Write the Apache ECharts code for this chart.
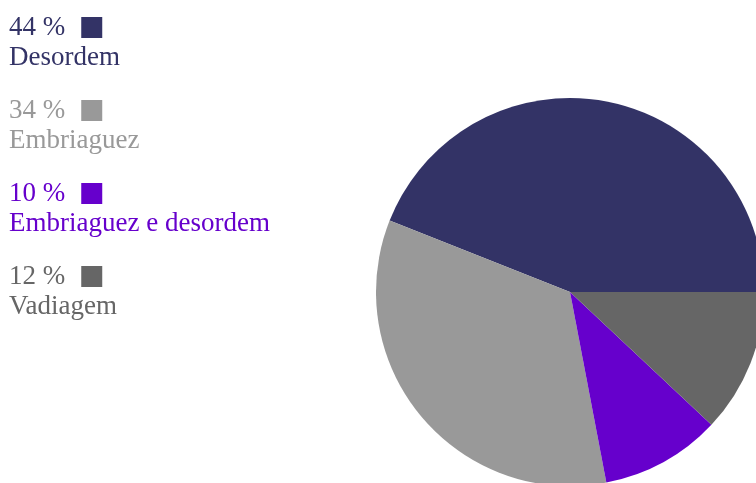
<!DOCTYPE html>
<html><head><meta charset="utf-8">
<script src="https://cdn.jsdelivr.net/npm/echarts@6/dist/echarts.min.js"></script>
<style>html,body{margin:0;padding:0;background:#fff}#c{width:756px;height:483px}</style>
</head><body><div id="c"></div>
<script>
const categories = ["Desordem", "Embriaguez", "Embriaguez e desordem", "Vadiagem"];
const values = [44, 34, 10, 12];
const colors = ["#333366", "#999999", "#6600cc", "#666666"];

const FONT = "'Liberation Serif', 'Times New Roman', serif";
const rich = { s: { width: 16 } };
categories.forEach((c, i) => {
  rich['p' + i] = { color: colors[i], fontSize: 27, lineHeight: 29, fontFamily: FONT };
  rich['n' + i] = { color: colors[i], fontSize: 27, lineHeight: 31, fontFamily: FONT };
  rich['b' + i] = { backgroundColor: colors[i], width: 21, height: 21 };
});

const chart = echarts.init(document.getElementById('c'), null, { renderer: 'canvas' });
chart.setOption({
  animation: false,
  legend: {
    orient: 'vertical', left: 4, top: 14, padding: 0, icon: 'none', itemWidth: 0, itemHeight: 0,
    textGap: 0, itemGap: 26, selectedMode: false,
    data: categories.map(c => ({ name: c })),
    formatter: name => {
      const i = categories.indexOf(name);
      return '{p' + i + '|' + values[i] + ' %}{s|}{b' + i + '|}\n{n' + i + '|' + name + '}';
    },
    textStyle: { fontFamily: FONT, fontSize: 27, rich: rich }
  },
  series: [{
    type: 'pie', center: [570, 292], radius: 194, startAngle: 0, clockwise: false,
    label: { show: false }, labelLine: { show: false }, silent: true,
    data: categories.map((c, i) => ({ name: c, value: values[i], itemStyle: { color: colors[i] } }))
  }]
});
</script></body></html>
